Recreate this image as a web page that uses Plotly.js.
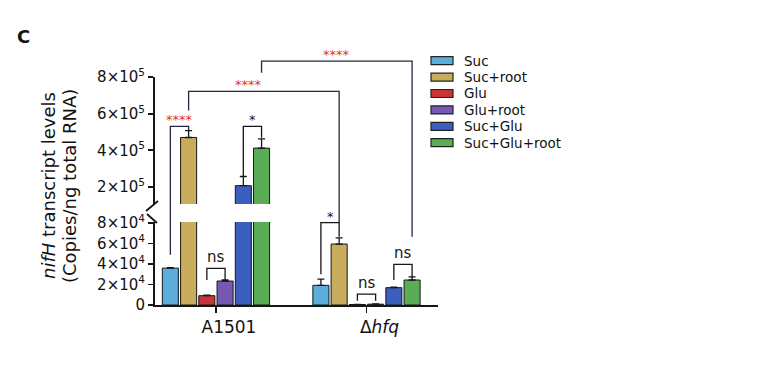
<!DOCTYPE html>
<html><head><meta charset="utf-8">
<script src="https://cdn.plot.ly/plotly-3.0.1.min.js"></script>
<style>html,body{margin:0;padding:0;background:#fff}</style>
</head><body><div id="chart" style="width:762px;height:366px"></div>
<script>
// ---------- data ----------
const categories = ['A1501', 'dhfq'];
const categoryLabels = ['A1501', 'Δ<i>hfq</i>'];
const seriesNames = ['Suc', 'Suc+root', 'Glu', 'Glu+root', 'Suc+Glu', 'Suc+Glu+root'];
const seriesColors = ['#5BAEDB', '#C9AD5C', '#C7353B', '#7659B3', '#3B5FBE', '#59AD56'];

const suc          = [36000, 19200];
const sucErr       = [500, 6000];
const sucRoot      = [470000, 59500];
const sucRootErr   = [37000, 6000];
const glu          = [9100, 500];
const gluErr       = [500, 200];
const gluRoot      = [23400, 800];
const gluRootErr   = [1000, 300];
const sucGlu       = [207000, 16900];
const sucGluErr    = [50000, 500];
const sucGluRoot   = [412000, 24400];
const sucGluRootErr= [50000, 3000];

const seriesValues = [suc, sucRoot, glu, gluRoot, sucGlu, sucGluRoot];
const seriesErrors = [sucErr, sucRootErr, gluErr, gluRootErr, sucGluErr, sucGluRootErr];

const lowTickVals  = [0, 20000, 40000, 60000, 80000];
const lowTickText  = ['0', '2×10<sup>4</sup>', '4×10<sup>4</sup>', '6×10<sup>4</sup>', '8×10<sup>4</sup>'];
const highTickVals = [200000, 400000, 600000, 800000];
const highTickText = ['2×10<sup>5</sup>', '4×10<sup>5</sup>', '6×10<sup>5</sup>', '8×10<sup>5</sup>'];

// significance brackets: [category index, series index] for each end, level and leg ends (values)
const bracketFrom   = [[0,0],[0,1],[0,5],[0,4],[1,0],[0,2],[1,2],[1,4]];
const bracketTo     = [[0,1],[1,1],[1,5],[0,5],[1,1],[0,3],[1,3],[1,5]];
const bracketLevel  = [531000, 722000, 887000, 531000, 80300, 35800, 10700, 39700];
const bracketLegA   = [49000, 617000, 823000, 257000, 30000, 24500, 4200, 24400];
const bracketLegB   = [510000, 80300, 66600, 469000, 66600, 24500, 4200, 26300];
const bracketLabels = ['****', '****', '****', '*', '*', 'ns', 'ns', 'ns'];

// ---------- layout geometry ----------
const W = 762, H = 366;
const M = {l:155, r:324, t:77, b:61};
const PW = W - M.l - M.r, PH = H - M.t - M.b;
const lowRange = [0, 81000], highRange = [107000, 800000];
const lowDomain = [0, 83/PH], highDomain = [101/PH, 1];
const BARGAP = 0.273, GROUPGAP = 0.12, NS = seriesNames.length;

function pxX(px){ return (px - M.l)/PW; }
function pxY(py){ return (H - M.b - py)/PH; }
function valToPaper(v){
  if (v <= lowRange[1]) return lowDomain[0] + (v-lowRange[0])/(lowRange[1]-lowRange[0])*(lowDomain[1]-lowDomain[0]);
  return highDomain[0] + (v-highRange[0])/(highRange[1]-highRange[0])*(highDomain[1]-highDomain[0]);
}
function barCenter(ci, si){
  const slot = (1-BARGAP)/NS;
  return ci - (1-BARGAP)/2 + (si+0.5)*slot;
}

const ink = '#161616';
const traces = [];
['y','y2'].forEach(ax => {
  seriesNames.forEach((name, i) => {
    traces.push({
      type:'bar', name:name, x:categories, y:seriesValues[i], xaxis:'x', yaxis:ax,
      marker:{color:seriesColors[i], line:{color:ink, width:1}},
      error_y:{type:'data', array:seriesErrors[i], arrayminus:seriesValues[i].map(()=>0), symmetric:false,
               color:ink, thickness:1.3, width:3.5},
      showlegend:false, hoverinfo:'skip'
    });
  });
});

const shapes = [];
const annotations = [];

// brackets
bracketLevel.forEach((lvl, k) => {
  const xa = barCenter(bracketFrom[k][0], bracketFrom[k][1]);
  const xb = barCenter(bracketTo[k][0], bracketTo[k][1]);
  const yl = valToPaper(lvl);
  const ln = {color: k < 3 ? '#2a2540' : ink, width:1.3};
  shapes.push({type:'path', xref:'x', yref:'paper',
    path:`M ${xa},${valToPaper(bracketLegA[k])} L ${xa},${yl} L ${xb},${yl} L ${xb},${valToPaper(bracketLegB[k])}`,
    line:ln});
  const isStar = bracketLabels[k].indexOf('*') >= 0;
  const red = bracketLabels[k] === '****';
  annotations.push({xref:'x', yref:'paper', x:(xa+xb)/2, y:yl, text:bracketLabels[k],
    showarrow:false, xanchor:'center', yanchor:'bottom',
    xshift: k === 1 ? -15 : 0, yshift: isStar ? -3 : 0,
    font:{family:'DejaVu Sans', size: isStar ? 13 : 15, color: red ? '#E5332E' : ink}});
});

// axis break marks
shapes.push({type:'line', xref:'paper', yref:'paper', x0:pxX(146), y0:pxY(211), x1:pxX(158), y1:pxY(201), line:{color:ink, width:1.8}});
shapes.push({type:'line', xref:'paper', yref:'paper', x0:pxX(147), y0:pxY(214), x1:pxX(157), y1:pxY(223), line:{color:ink, width:1.8}});

// legend
const legTop = 60.7, legStep = 16.4;
seriesNames.forEach((name, i) => {
  const cy = legTop + i*legStep;
  shapes.push({type:'rect', xref:'paper', yref:'paper', x0:pxX(431), x1:pxX(453), y0:pxY(cy+4), y1:pxY(cy-4),
    fillcolor:seriesColors[i], line:{color:'#222', width:1.2}});
  annotations.push({xref:'paper', yref:'paper', x:pxX(463), y:pxY(cy), text:name, showarrow:false,
    xanchor:'left', yanchor:'middle', borderpad:0, font:{family:'DejaVu Sans', size:13.5, color:'#111'}});
});

// panel letter and y-axis title
annotations.push({xref:'paper', yref:'paper', x:pxX(23), y:pxY(36), text:'<b>C</b>', showarrow:false,
  xanchor:'center', yanchor:'middle', font:{family:'DejaVu Sans', size:18, color:'#111'}});
annotations.push({xref:'paper', yref:'paper', x:pxX(48), y:pxY(186), text:'<i>nifH</i> transcript levels', showarrow:false,
  textangle:-90, xanchor:'center', yanchor:'middle', font:{family:'DejaVu Sans', size:18, color:'#111'}});
annotations.push({xref:'paper', yref:'paper', x:pxX(69), y:pxY(186), text:'(Copies/ng total RNA)', showarrow:false,
  textangle:-90, xanchor:'center', yanchor:'middle', font:{family:'DejaVu Sans', size:18, color:'#111'}});

const yCommon = {showline:true, linewidth:2, linecolor:ink, ticks:'outside', ticklen:5, tickwidth:1.8, tickcolor:ink,
  showgrid:false, zeroline:false, tickfont:{family:'DejaVu Sans', size:15, color:'#111'}, fixedrange:true};

const layout = {
  width:W, height:H, margin:M, paper_bgcolor:'#fff', plot_bgcolor:'rgba(0,0,0,0)',
  barmode:'group', bargap:BARGAP, bargroupgap:GROUPGAP, showlegend:false,
  font:{family:'DejaVu Sans', color:'#111'},
  xaxis:{type:'category', range:[-0.405, 1.475], tickvals:categories, ticktext:categoryLabels,
    showline:true, linewidth:2, linecolor:ink, ticks:'outside', ticklen:6, tickwidth:1.8, tickcolor:ink,
    showgrid:false, zeroline:false, anchor:'y', tickfont:{family:'DejaVu Sans', size:17, color:'#111'},
    ticklabelshift:13, fixedrange:true},
  yaxis:Object.assign({}, yCommon, {domain:lowDomain, range:lowRange, tickvals:lowTickVals, ticktext:lowTickText, anchor:'x'}),
  yaxis2:Object.assign({}, yCommon, {domain:highDomain, range:highRange, tickvals:highTickVals, ticktext:highTickText, anchor:'x'}),
  shapes:shapes, annotations:annotations
};

Plotly.newPlot('chart', traces, layout, {staticPlot:true, displayModeBar:false});
</script></body></html>
